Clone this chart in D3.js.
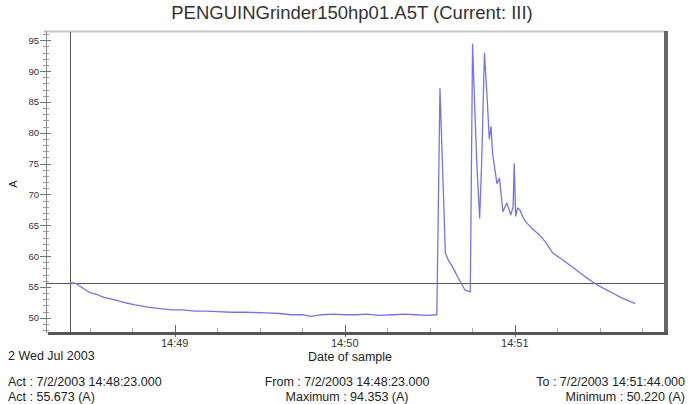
<!DOCTYPE html>
<html><head><meta charset="utf-8">
<script src="https://cdn.jsdelivr.net/npm/d3@7"></script>
<style>
body{margin:0;background:#fff;}
text{font-family:"Liberation Sans",Arial,sans-serif;fill:#222;}
</style></head>
<body><svg id="c" width="689" height="404"></svg>
<script>
// seconds after 14:48:00 on 2 Jul 2003
const secs = [23,25,27,30,33,35,39,43,46,51,55,59,63,67,71,75,80,85,92,97,101,105,108,112,116,120,124,128,132,137,141,145,149,152.5,
  153.6,154.4,155.5,156.5,158,160,162.4,164.3,165.1,165.8,166.6,167.6,168.3,169.3,170.2,171,171.6,172.2,173,173.7,174.6,175.8,177.2,178.6,179.4,179.8,180.3,181,181.8,183,184.2,186.5,188.8,191,193.4,196,198.4,201,203,205,207.5,210,212.5,215,217,220,222.5];
const amps = [55.7,55.6,55.0,54.1,53.7,53.3,52.9,52.4,52.1,51.7,51.5,51.3,51.3,51.1,51.1,51.0,50.9,50.9,50.8,50.7,50.5,50.5,50.22,50.5,50.6,50.5,50.5,50.6,50.4,50.5,50.6,50.5,50.4,50.5,
  87.2,76,60.5,59.4,58.3,56.5,54.5,54.2,94.35,85,75,66.2,75,92.9,86,79,81,76.5,74,71.8,72.6,67.2,68.6,66.7,68,75.0,66.5,67.8,67.5,66.2,65.4,64.3,63.4,62.2,60.5,59.7,58.9,58.0,57.3,56.6,55.8,55.1,54.5,53.9,53.4,52.8,52.3];
const yTicks = [50,55,60,65,70,75,80,85,90,95];
const xTickLabels = ["14:49","14:50","14:51"];
const title = "PENGUINGrinder150hp01.A5T (Current: III)";
const cursorTime = 23, cursorValue = 55.673;
const footerLeft = ["Act : 7/2/2003 14:48:23.000", "Act : 55.673 (A)"];
const footerMid = ["From : 7/2/2003 14:48:23.000", "Maximum : 94.353 (A)"];
const footerRight = ["To : 7/2/2003 14:51:44.000", "Minimum : 50.220 (A)"];

const base = new Date(2003,6,2,14,48,0);
const toDate = s => new Date(base.getTime() + s*1000);
const data = secs.map((s,i)=>({t:toDate(s), v:amps[i]}));

const svg = d3.select("#c");
const x = d3.scaleTime().domain([toDate(15.3), toDate(233)]).range([48, 665]);
const y = d3.scaleLinear().domain([47.7, 96.5]).range([332, 31]);

// title
svg.append("text").attr("x",352).attr("y",19).attr("text-anchor","middle")
  .style("font-size","18.5px").style("fill","#333").text(title);

// frame top & right
svg.append("line").attr("x1",44).attr("x2",666).attr("y1",31.5).attr("y2",31.5).attr("stroke","#c8c8c8").attr("stroke-width",2);
svg.append("line").attr("x1",666).attr("x2",666).attr("y1",31).attr("y2",335).attr("stroke","#666").attr("stroke-width",4);

// y axis
svg.append("line").attr("x1",46.5).attr("x2",46.5).attr("y1",31).attr("y2",333).attr("stroke","#888");
const minorY = d3.range(48,97,1);
svg.selectAll(".ym").data(minorY).join("line").attr("x1",43).attr("x2",49)
  .attr("y1",d=>Math.round(y(d))+0.5).attr("y2",d=>Math.round(y(d))+0.5).attr("stroke","#999");
svg.selectAll(".yM").data(yTicks).join("line").attr("x1",40).attr("x2",51)
  .attr("y1",d=>Math.round(y(d))+0.5).attr("y2",d=>Math.round(y(d))+0.5).attr("stroke","#777");
svg.selectAll(".yl").data(yTicks).join("text").attr("x",39).attr("y",d=>y(d)+3.5)
  .attr("text-anchor","end").style("font-size","9.5px").style("fill","#333").text(d=>d);
svg.append("text").attr("transform","translate(17,184) rotate(-90)").attr("text-anchor","middle")
  .style("font-size","11px").text("A");

// x axis
const minorX = d3.range(30,240,15).map(toDate).filter(d=>x(d)>50 && x(d)<662);
svg.selectAll(".xm").data(minorX).join("line")
  .attr("x1",d=>Math.round(x(d))+0.5).attr("x2",d=>Math.round(x(d))+0.5).attr("y1",328).attr("y2",332).attr("stroke","#aaa");
const majorX = [60,120,180].map(toDate);
svg.selectAll(".xM").data(majorX).join("line")
  .attr("x1",d=>Math.round(x(d))+0.5).attr("x2",d=>Math.round(x(d))+0.5).attr("y1",325).attr("y2",337).attr("stroke","#666");
svg.append("line").attr("x1",48).attr("x2",668).attr("y1",333.5).attr("y2",333.5).attr("stroke","#555").attr("stroke-width",3);
svg.selectAll(".xl").data(majorX).join("text").attr("x",d=>x(d)).attr("y",347)
  .attr("text-anchor","middle").style("font-size","11px").style("fill","#333").text((d,i)=>xTickLabels[i]);
svg.append("text").attr("x",8).attr("y",360).style("font-size","12.5px").text("2 Wed Jul 2003");
svg.append("text").attr("x",350).attr("y",361).attr("text-anchor","middle").style("font-size","12.5px").text("Date of sample");

// cursor lines
svg.append("line").attr("x1",Math.round(x(toDate(cursorTime)))+0.5).attr("x2",Math.round(x(toDate(cursorTime)))+0.5)
  .attr("y1",32).attr("y2",332).attr("stroke","#555");
svg.append("line").attr("x1",46).attr("x2",664).attr("y1",Math.round(y(cursorValue))+0.5).attr("y2",Math.round(y(cursorValue))+0.5).attr("stroke","#555");

// series
const line = d3.line().x(d=>x(d.t)).y(d=>y(d.v));
svg.append("path").datum(data).attr("d",line).attr("fill","none")
  .attr("stroke","#7474ea").attr("stroke-width",1.3).attr("stroke-linejoin","round");

// footer
const fy = [386, 401];
footerLeft.forEach((t,i)=>svg.append("text").attr("x",8).attr("y",fy[i]).style("font-size","12.5px").text(t));
footerMid.forEach((t,i)=>svg.append("text").attr("x",347).attr("y",fy[i]).attr("text-anchor","middle").style("font-size","12.5px").text(t));
footerRight.forEach((t,i)=>svg.append("text").attr("x",685).attr("y",fy[i]).attr("text-anchor","end").style("font-size","12.5px").text(t));
</script></body></html>
